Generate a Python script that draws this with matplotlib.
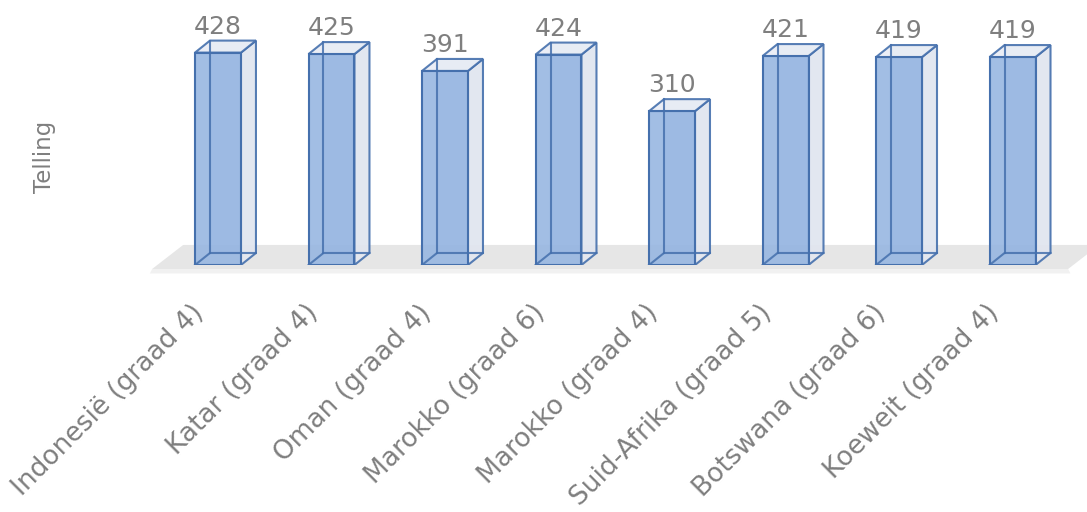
import matplotlib
matplotlib.use("Agg")
import matplotlib.pyplot as plt
from matplotlib.patches import Polygon

categories = ["Indonesië (graad 4)", "Katar (graad 4)", "Oman (graad 4)", "Marokko (graad 6)",
              "Marokko (graad 4)", "Suid-Afrika (graad 5)", "Botswana (graad 6)", "Koeweit (graad 4)"]
values = [428, 425, 391, 424, 310, 421, 419, 419]
y_label = "Telling"

W, H = 1087, 512
fig = plt.figure(figsize=(W / 100, H / 100), dpi=100)
ax = fig.add_axes([150 / W, 247 / H, (W - 150) / W, 265 / H])
ax.set_xlim(-0.599, 7.656)
ax.set_ylim(0, 534)
ax.axis("off")

bw = 0.405          # bar width (category units)
dx, dy = 0.132, 24.2  # depth offset in data units
edge = "#4570ad"
front = "#95b5e1"
side = "#e4e8f0"
top = "#e9edf5"
gray = "#7f7f7f"

# floor
n = len(values)
fx0, fx1 = -0.58, n - 1 + 0.49
fdx, fdy = 0.273, 48.4
ax.add_patch(Polygon([(fx0, -8), (fx1, -8), (fx1 + fdx, -8 + fdy), (fx0 + fdx, -8 + fdy)],
                     closed=True, facecolor="#e6e6e6", edgecolor="none", clip_on=False, zorder=0))
ax.add_patch(Polygon([(fx0, -8), (fx1, -8), (fx1 + 0.02, -17), (fx0 - 0.02, -17)],
                     closed=True, facecolor="#f1f1f1", edgecolor="none", clip_on=False, zorder=0))

lw = 1.5
for i, v in enumerate(values):
    x0, x1 = i - bw / 2, i + bw / 2
    z = 1 + i * 0.01
    # back face (seen through the front)
    ax.add_patch(Polygon([(x0 + dx, dy), (x1 + dx, dy), (x1 + dx, v + dy), (x0 + dx, v + dy)],
                         closed=True, facecolor=front, edgecolor="none", alpha=0.35, zorder=z))
    # right side face
    ax.add_patch(Polygon([(x1, 0), (x1 + dx, dy), (x1 + dx, v + dy), (x1, v)], closed=True,
                         facecolor=side, edgecolor=edge, lw=lw, zorder=z, alpha=0.9))
    # top face
    ax.add_patch(Polygon([(x0, v), (x1, v), (x1 + dx, v + dy), (x0 + dx, v + dy)], closed=True,
                         facecolor=top, edgecolor=edge, lw=lw, zorder=z, alpha=0.9))
    # front face fill
    ax.add_patch(Polygon([(x0, 0), (x1, 0), (x1, v), (x0, v)], closed=True,
                         facecolor=front, edgecolor="none", zorder=z + 0.001, alpha=0.88))
    # hidden edges seen through
    ax.plot([x0 + dx, x0 + dx], [dy, v + dy], color=edge, lw=lw, zorder=z + 0.002, alpha=0.85)
    ax.plot([x0, x0 + dx, x1 + dx], [0, dy, dy], color=edge, lw=lw, zorder=z + 0.002, alpha=0.85)
    # front outline
    ax.add_patch(Polygon([(x0, 0), (x1, 0), (x1, v), (x0, v)], closed=True,
                         facecolor="none", edgecolor=edge, lw=lw, zorder=z + 0.003))
    ax.text(i, v + dy + 4, str(v), ha="center", va="bottom", fontsize=18, color=gray, zorder=5)
    ax.text(i - 0.24, -70, categories[i], rotation=45, rotation_mode="anchor",
            ha="right", va="top", fontsize=19, color=gray, clip_on=False)

fig.text(45 / W, 1 - 157 / H, y_label, rotation=90, ha="center", va="center",
         fontsize=16.5, color=gray)

fig.savefig("out.png", dpi=100)
